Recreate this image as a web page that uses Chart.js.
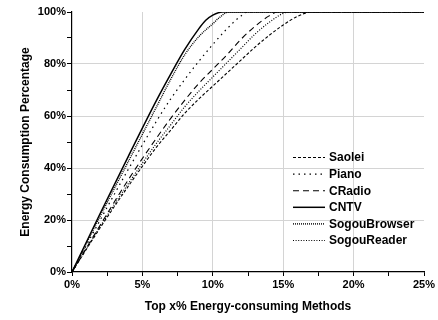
<!DOCTYPE html>
<html>
<head>
<meta charset="utf-8">
<script src="https://cdn.jsdelivr.net/npm/chart.js@4/dist/chart.umd.min.js"></script>
<style>
html,body{margin:0;padding:0;background:#fff;}
#wrap{width:438px;height:320px;position:relative;}
</style>
</head>
<body>
<div id="wrap"><canvas id="c" width="438" height="320"></canvas></div>
<script>
// ---- data (x = top x% of methods, y = energy consumption %) ----
const seriesNames = ["Saolei", "Piano", "CRadio", "CNTV", "SogouBrowser", "SogouReader"];

const saoleiX = [0, 2, 4, 6, 7, 8, 9, 10, 11, 12, 13, 14, 15, 16, 17, 25];
const saoleiY = [0, 17, 33, 48, 54.5, 61, 66.5, 71.5, 76.5, 81.5, 86.5, 91, 95, 98.3, 100, 100];

const pianoX = [0, 2, 4, 6, 7, 8, 9, 10, 11, 12, 12.5, 25];
const pianoY = [0, 20, 39.5, 58, 66.5, 74, 81, 87.5, 93.5, 98.5, 100, 100];

const cradioX = [0, 2, 4, 6, 7, 8, 9, 10, 11, 12, 13, 14, 14.6, 25];
const cradioY = [0, 18, 35.5, 51.5, 59, 66, 72.5, 78, 83.5, 89.5, 94.5, 98.5, 100, 100];

const cntvX = [0, 2, 4, 6, 7, 8, 9, 9.5, 10, 10.7, 25];
const cntvY = [0, 22.5, 44.5, 66, 76, 85.5, 93.5, 96.8, 98.8, 100, 100];

const sogouBrowserX = [0, 2, 4, 6, 7, 8, 9, 10, 10.5, 11.1, 25];
const sogouBrowserY = [0, 21.5, 42.5, 63.5, 74, 83.5, 90.5, 95.5, 98, 100, 100];

const sogouReaderX = [0, 2, 4, 6, 7, 8, 9, 10, 11, 12, 13, 14, 15, 15.4, 25];
const sogouReaderY = [0, 17.5, 34, 49.5, 56.5, 63.5, 69.5, 75, 80.5, 86, 91.5, 96, 99.5, 100, 100];

const xTickLabels = ["0%", "5%", "10%", "15%", "20%", "25%"];
const yTickLabels = ["0%", "20%", "40%", "60%", "80%", "100%"];

// ---- styles ----
const dashes = [[3, 2], [1.5, 4], [6, 4], [], [1, 1], [1, 1.6]];
const widths = [1.1, 1.2, 1.1, 1.5, 1.4, 1.2];

const xs = [saoleiX, pianoX, cradioX, cntvX, sogouBrowserX, sogouReaderX];
const ysArr = [saoleiY, pianoY, cradioY, cntvY, sogouBrowserY, sogouReaderY];

const datasets = seriesNames.map((n, i) => ({
  label: n,
  data: xs[i].map((x, k) => ({x: x, y: ysArr[i][k]})),
  borderColor: '#000',
  borderWidth: widths[i],
  borderDash: dashes[i],
  pointRadius: 0,
  fill: false,
  cubicInterpolationMode: 'monotone'
}));

const FONT = "'Liberation Sans', Arial, sans-serif";

const legendPlugin = {
  id: 'innerLegend',
  afterDatasetsDraw(chart) {
    const ctx = chart.ctx;
    ctx.save();
    ctx.font = "bold 12px " + FONT;
    ctx.fillStyle = '#000';
    ctx.textBaseline = 'middle';
    chart.data.datasets.forEach((ds, i) => {
      const y = 157.5 + i * 16.6;
      ctx.beginPath();
      ctx.setLineDash(ds.borderDash);
      ctx.lineWidth = ds.borderWidth;
      ctx.strokeStyle = '#000';
      ctx.moveTo(293, y);
      ctx.lineTo(325, y);
      ctx.stroke();
      ctx.setLineDash([]);
      ctx.fillText(ds.label, 329, y + 0.5);
    });
    ctx.restore();
  }
};

new Chart(document.getElementById('c'), {
  type: 'line',
  data: { datasets: datasets },
  plugins: [legendPlugin],
  options: {
    responsive: false,
    animation: false,
    events: [],
    layout: { padding: { left: 0, right: 14, top: 12, bottom: 0 } },
    plugins: { legend: { display: false }, tooltip: { enabled: false } },
    scales: {
      x: {
        type: 'linear', min: 0, max: 25,
        afterFit: s => { s.height = 48; },
        border: { color: '#000', width: 1.2 },
        grid: {
          color: c => (c.tick && c.tick.value % 5 === 0 && c.tick.value > 0 && c.tick.value < 25) ? '#d4d4d4' : 'rgba(0,0,0,0)',
          tickColor: '#000', tickLength: 4, drawTicks: true
        },
        ticks: {
          stepSize: 2.5, autoSkip: false, maxRotation: 0, padding: 2,
          color: '#000', font: { family: FONT, size: 11, weight: 'bold' },
          callback: v => (v % 5 === 0) ? xTickLabels[v / 5] : ''
        },
        title: {
          display: true, text: 'Top x% Energy-consuming Methods', color: '#000',
          font: { family: FONT, size: 12, weight: 'bold' }, padding: { top: 0, bottom: 6 }
        }
      },
      y: {
        type: 'linear', min: 0, max: 100,
        afterFit: s => { s.width = 72; },
        border: { color: '#000', width: 1.2 },
        grid: {
          color: c => (c.tick && c.tick.value % 20 === 0 && c.tick.value > 0 && c.tick.value < 100) ? '#d4d4d4' : 'rgba(0,0,0,0)',
          tickColor: '#000', tickLength: 5, drawTicks: true
        },
        ticks: {
          stepSize: 10, autoSkip: false, padding: 1,
          color: '#000', font: { family: FONT, size: 11, weight: 'bold' },
          callback: v => (v % 20 === 0) ? yTickLabels[v / 20] : ''
        },
        title: {
          display: true, text: 'Energy Consumption Percentage', color: '#000',
          font: { family: FONT, size: 12, weight: 'bold' }, padding: { top: 18, bottom: 0 }
        }
      }
    }
  }
});
</script>
</body>
</html>
